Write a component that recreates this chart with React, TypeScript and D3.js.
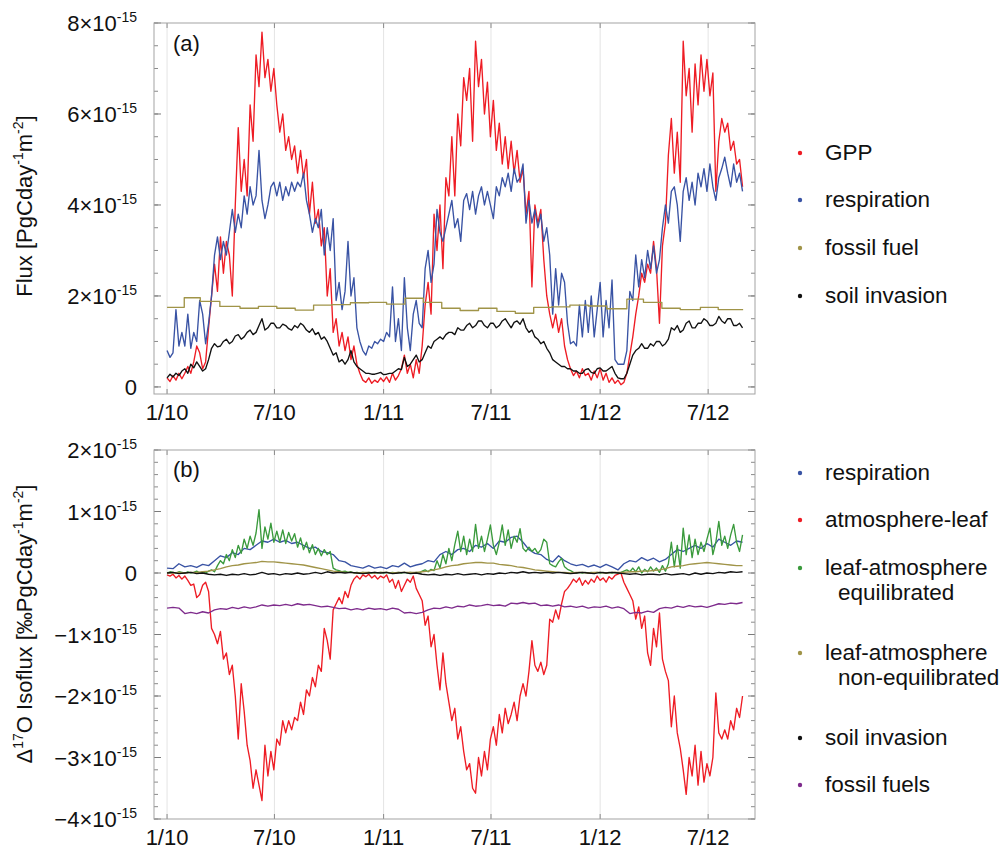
import React from 'react';
import * as d3 from 'd3';

// ---------- time axis ----------
const T0 = Date.UTC(2010, 0, 1);
const DAY = 86400000;
const dayDate = (d: number) => new Date(T0 + d * DAY);

const xTickDates = [Date.UTC(2010, 0, 1), Date.UTC(2010, 6, 1), Date.UTC(2011, 0, 1), Date.UTC(2011, 6, 1), Date.UTC(2012, 0, 1), Date.UTC(2012, 6, 1)];
const xTickLabels = ['1/10', '7/10', '1/11', '7/11', '1/12', '7/12'];

const yTicksA = [0, 2, 4, 6, 8];
const yTicksB = [-4, -3, -2, -1, 0, 1, 2];

// ---------- panel (a): fluxes, units of 1e-15 PgC day-1 m-2 ----------
// sampled every 5 days from 1 Jan 2010
const gpp = [
  0.2, 0.12, 0.25, 0.15, 0.3, 0.18, 0.3, 0.45, 0.3, 0.55,
  0.9, 0.75, 0.4, 0.55, 1.3, 2.0, 2.7, 2.1, 3.3, 2.5,
  3.2, 2.9, 2.0, 4.0, 5.7, 4.3, 5.0, 4.2, 6.2, 5.4,
  7.3, 6.6, 7.8, 6.8, 7.2, 6.5, 7.0, 6.2, 5.6, 6.0,
  5.2, 5.5, 5.0, 5.3, 4.7, 5.2, 4.6, 5.0, 3.8, 4.5,
  3.6, 3.9, 3.1, 3.5, 2.0, 2.6, 1.2, 1.5, 0.9, 1.2,
  0.8, 1.1, 0.6, 0.9, 0.5, 0.3, 0.15, 0.1, 0.2, 0.08,
  0.15, 0.1, 0.2, 0.12, 0.22, 0.1, 0.3, 0.15, 0.25, 0.4,
  0.7, 0.3, 0.5, 0.2, 0.6, 0.3, 0.9, 1.8, 2.3, 1.6,
  3.8, 3.0, 4.0, 2.6, 4.6, 4.2, 5.5, 4.2, 6.0, 5.3,
  6.8, 6.3, 7.0, 5.4, 7.6, 6.6, 7.2, 6.0, 6.7, 5.5,
  6.3, 5.2, 5.8, 4.9, 5.5, 4.8, 5.4, 4.7, 5.2, 4.5,
  4.8, 3.8, 4.3, 2.2, 4.0, 3.6, 3.9, 2.8, 2.0, 1.6,
  1.3, 1.6, 1.2, 1.5, 0.9, 0.6, 0.4, 0.25, 0.35, 0.2,
  0.4, 0.25, 0.3, 0.15, 0.35, 0.2, 0.4, 0.15, 0.3, 0.1,
  0.2, 0.08, 0.15, 0.05, 0.1, 0.3, 0.7, 1.1, 1.6, 2.0,
  2.5, 2.3, 2.7, 2.5, 3.2, 2.6, 1.4, 3.1, 3.6, 5.1,
  5.9, 4.7, 5.6, 4.5, 7.6, 6.4, 7.0, 5.6, 7.1, 6.2,
  7.3, 6.5, 7.2, 6.4, 6.9, 4.3, 5.4, 5.9, 5.6, 5.8,
  5.2, 5.4, 4.9, 5.0, 4.4,
];

const respirationA = [
  0.8, 0.65, 0.75, 1.7, 0.9, 1.2, 0.9, 1.6, 0.85, 1.2,
  1.0, 1.9, 1.6, 0.95, 1.4, 2.0, 2.9, 3.3, 2.8, 3.2,
  2.9, 3.4, 3.9, 3.4, 3.8, 3.5, 4.2, 3.8, 4.4, 4.0,
  4.2, 5.2, 4.1, 3.7, 4.0, 4.4, 4.5, 4.2, 4.5, 4.1,
  4.4, 4.2, 4.5, 4.3, 4.5, 4.4, 4.7, 4.1, 3.8, 3.4,
  3.7, 3.5, 3.9, 2.9, 3.5, 3.0, 3.7, 1.9, 2.3, 1.7,
  2.1, 3.2, 2.0, 2.4, 1.3, 1.0, 0.8, 0.7, 0.9, 0.85,
  1.0, 0.95, 1.05, 1.0, 1.2, 1.1, 2.2, 1.0, 1.5, 0.8,
  2.4, 1.3, 0.8, 1.6, 1.9, 1.4, 1.3, 2.6, 3.0, 2.3,
  2.7, 3.9, 3.4, 3.2, 3.5, 3.8, 4.1, 3.5, 3.7, 3.2,
  4.1, 4.25, 3.9, 4.3, 3.8, 4.2, 4.4, 4.0, 4.3, 4.0,
  3.7, 4.4, 4.2, 4.6, 4.4, 4.7, 4.3, 4.8, 4.5, 4.6,
  4.9, 3.6, 4.1, 3.6, 3.9, 3.5, 3.8, 3.2, 3.5, 2.9,
  1.6, 2.6, 1.8, 2.5, 2.3, 1.4, 0.95, 1.0, 0.9, 1.8,
  1.1, 1.9, 1.2, 2.0, 1.1, 1.7, 2.3, 1.1, 1.9, 1.3,
  2.35, 0.6, 0.5, 0.5, 0.5, 0.8, 2.1, 1.9, 2.9, 2.2,
  2.8, 2.4, 3.0, 2.6, 3.1, 2.5, 2.8, 3.5, 4.0, 3.6,
  4.3, 4.4, 4.0, 3.2, 4.3, 4.6, 4.1, 4.5, 4.0, 4.7,
  4.4, 4.8, 4.3, 4.9, 4.4, 4.1, 4.6, 4.8, 5.05, 4.7,
  4.4, 4.9, 4.5, 4.7, 4.3,
];

const soilInvasionA = [
  0.2, 0.28, 0.22, 0.3, 0.25, 0.35, 0.4, 0.3, 0.5, 0.42,
  0.55, 0.45, 0.35, 0.4, 0.6, 0.85, 0.95, 0.88, 0.9, 1.0,
  1.05, 0.95, 1.0, 1.12, 1.15, 1.05, 1.1, 1.2, 1.25, 1.15,
  1.2, 1.35, 1.5, 1.25, 1.3, 1.4, 1.4, 1.3, 1.3, 1.38,
  1.35, 1.28, 1.25, 1.35, 1.3, 1.4, 1.35, 1.25, 1.2, 1.28,
  1.15, 1.2, 1.05, 1.1, 1.0, 0.85, 0.7, 0.75, 0.55, 0.6,
  0.5, 0.6, 0.8, 0.55, 0.45, 0.4, 0.35, 0.3, 0.3, 0.28,
  0.28, 0.3, 0.32, 0.27, 0.28, 0.3, 0.3, 0.35, 0.4, 0.38,
  0.65, 0.45, 0.5, 0.6, 0.7, 0.55, 0.6, 0.75, 0.9, 0.85,
  1.0, 1.05, 1.1, 1.05, 1.15, 1.2, 1.2, 1.15, 1.3, 1.25,
  1.25, 1.35, 1.4, 1.3, 1.35, 1.45, 1.45, 1.35, 1.3, 1.4,
  1.4, 1.3, 1.35, 1.45, 1.5, 1.4, 1.3, 1.42, 1.45, 1.38,
  1.5, 1.3, 1.2, 1.25, 1.1, 1.05, 0.95, 1.0, 0.85, 0.75,
  0.6, 0.55, 0.5, 0.45, 0.45, 0.4, 0.4, 0.35, 0.35, 0.3,
  0.3, 0.38, 0.4, 0.32, 0.3, 0.4, 0.42, 0.35, 0.35, 0.4,
  0.45, 0.3, 0.2, 0.18, 0.18, 0.3, 0.5, 0.7, 0.8, 0.85,
  0.95, 0.85, 0.85, 0.95, 0.9, 1.0, 1.0, 0.9, 0.95, 1.05,
  1.3, 1.25, 1.35, 1.2, 1.25, 1.4, 1.45, 1.3, 1.3, 1.4,
  1.4, 1.5, 1.45, 1.35, 1.35, 1.4, 1.55, 1.45, 1.4, 1.5,
  1.5, 1.35, 1.35, 1.4, 1.3,
];

// fossil fuel: piecewise-constant levels, starting on the given day offsets
const fossilStepDays = [0, 29, 56, 89, 123, 154, 185, 216, 247, 278, 309, 340, 370, 401, 432, 463, 494, 525, 556, 587, 618, 648, 679, 710, 741, 775, 803, 834, 865, 899, 929];
const fossilLevels = [1.75, 1.96, 1.88, 1.77, 1.73, 1.77, 1.73, 1.69, 1.80, 1.81, 1.85, 1.86, 1.82, 1.95, 1.86, 1.73, 1.68, 1.73, 1.66, 1.62, 1.75, 1.76, 1.80, 1.78, 1.72, 1.93, 1.86, 1.73, 1.70, 1.75, 1.70];
const lastDay = 971;

// ---------- panel (b): isofluxes, units of 1e-15 permil PgC day-1 m-2 ----------
// every 5 days
const atmosphereLeaf = [
  -0.03, -0.05, -0.02, -0.08, -0.04, -0.1, -0.05, -0.12, -0.2, -0.18,
  -0.4, -0.35, -0.2, -0.15, -0.3, -0.9, -1.0, -1.15, -0.95, -1.4,
  -1.3, -1.65, -1.5, -2.0, -2.7, -1.8, -2.25, -2.8, -3.05, -3.5,
  -3.2, -3.45, -3.7, -2.8, -3.3, -2.9, -3.2, -2.7, -2.8, -2.4,
  -2.6, -2.4, -2.55, -2.35, -2.4, -2.1, -2.3, -1.9, -2.0, -1.7,
  -1.85, -1.5, -1.6, -0.9, -1.1, -1.4, -0.6, -0.5, -0.4, -0.5,
  -0.3, -0.4, -0.2, -0.1, -0.05, -0.1, -0.03, -0.06, -0.02, -0.08,
  -0.04, -0.1, -0.05, -0.08, -0.03, -0.15, -0.1, -0.25, -0.12, -0.3,
  -0.2, -0.1, -0.15, -0.05, -0.25, -0.35, -0.45, -0.85, -0.7, -1.2,
  -1.0, -1.5, -1.9, -1.3, -1.8, -2.1, -2.4, -2.2, -2.7, -2.5,
  -2.9, -3.2, -3.1, -3.5, -3.58, -3.0, -3.3, -2.9, -3.2, -2.7,
  -2.5, -2.8, -2.3, -2.6, -2.2, -2.45, -2.3, -2.1, -2.4, -2.0,
  -1.8, -2.0, -1.6, -1.1, -1.5, -1.6, -1.45, -1.65, -1.5, -0.75,
  -0.8, -0.6, -0.75, -0.5, -0.3, -0.25, -0.18, -0.1, -0.15, -0.08,
  -0.2, -0.12, -0.18, -0.1, -0.15, -0.05, -0.12, -0.08, -0.15, -0.06,
  -0.1, -0.04, -0.02, 0.0, -0.15, -0.25, -0.35, -0.45, -0.75, -0.55,
  -0.9, -0.7, -1.3, -1.5, -0.9, -1.2, -0.65, -1.4, -1.6, -1.75,
  -2.5, -2.0, -2.6, -2.85, -3.2, -3.6, -3.0, -3.3, -2.8, -3.45,
  -2.9, -3.4, -3.1, -3.3, -3.0, -1.95, -2.6, -2.7, -2.55, -2.7,
  -2.4, -2.55, -2.2, -2.35, -2.0,
];

const leafAtmEquilibrated = [
  0.0, 0.02, 0.01, 0.0, 0.02, 0.01, 0.0, 0.02, 0.0, 0.01,
  0.03, 0.0, 0.02, 0.0, 0.03, 0.05, 0.02, 0.12, 0.2, 0.15,
  0.3, 0.2, 0.38, 0.25, 0.45, 0.32, 0.55, 0.4, 0.6, 0.45,
  0.65, 1.03, 0.4, 0.75, 0.55, 0.81, 0.5, 0.68, 0.5, 0.7,
  0.48, 0.66, 0.52, 0.64, 0.42, 0.57, 0.38, 0.5, 0.33, 0.46,
  0.3, 0.4, 0.28, 0.38, 0.3, 0.35, 0.08, 0.05, 0.04, 0.02,
  0.03, 0.01, 0.02, 0.0, 0.01, 0.0, 0.01, 0.0, 0.01, 0.0,
  0.01, 0.0, 0.01, 0.0, 0.01, 0.0, 0.01, 0.0, 0.01, 0.0,
  0.01, 0.0, 0.01, 0.0, 0.01, 0.0, 0.03, 0.05, 0.02, 0.06,
  0.04, 0.2, 0.08, 0.3, 0.15, 0.4, 0.2, 0.46, 0.68, 0.35,
  0.6, 0.3, 0.55, 0.35, 0.79, 0.4, 0.6, 0.35, 0.55, 0.78,
  0.45, 0.3, 0.5, 0.78, 0.45, 0.7, 0.4, 0.6, 0.5, 0.72,
  0.4, 0.35, 0.42, 0.35, 0.4, 0.32, 0.38, 0.55, 0.5, 0.15,
  0.12, 0.1, 0.18, 0.24, 0.1, 0.06, 0.04, 0.01, 0.0, 0.01,
  0.0, 0.01, 0.0, 0.01, 0.0, 0.01, 0.0, 0.01, 0.0, 0.01,
  0.0, 0.01, 0.0, 0.01, 0.03, 0.05, 0.02, 0.08, 0.02, 0.1,
  0.0, 0.06, 0.02, 0.1, 0.03, 0.08, 0.01, 0.12, 0.03, 0.15,
  0.5, 0.1, 0.45, 0.08, 0.73, 0.3, 0.62, 0.25, 0.55, 0.3,
  0.5, 0.35, 0.55, 0.73, 0.3, 0.5, 0.84, 0.45, 0.6, 0.4,
  0.62, 0.79, 0.5, 0.35, 0.62,
];

// every 10 days
const respirationB = [
  0.08, 0.07, 0.15, 0.1, 0.12, 0.09, 0.14, 0.12, 0.2, 0.28,
  0.25, 0.33, 0.3, 0.4, 0.38, 0.45, 0.52, 0.5, 0.55, 0.5,
  0.53, 0.48, 0.5, 0.45, 0.4, 0.42, 0.35, 0.33, 0.3, 0.2,
  0.18, 0.12, 0.1, 0.08, 0.12, 0.08, 0.1, 0.07, 0.12, 0.1,
  0.16, 0.1, 0.13, 0.15, 0.2, 0.18, 0.3, 0.35, 0.3, 0.38,
  0.4, 0.35, 0.45, 0.42, 0.48, 0.4, 0.52, 0.5, 0.58, 0.6,
  0.5, 0.38, 0.32, 0.3, 0.22, 0.18, 0.28, 0.2, 0.15, 0.12,
  0.14, 0.1, 0.13, 0.09, 0.14, 0.1, 0.05, 0.15, 0.2, 0.18,
  0.25, 0.2, 0.24, 0.18, 0.22, 0.3, 0.38, 0.35, 0.4, 0.45,
  0.4, 0.48, 0.42, 0.55, 0.5, 0.45, 0.52, 0.5,
];

const leafAtmNonEquilibrated = [
  0.0, 0.0, 0.01, 0.0, 0.01, 0.01, 0.02, 0.03, 0.05, 0.07,
  0.1, 0.12, 0.13, 0.15, 0.16, 0.17, 0.19, 0.18, 0.18, 0.17,
  0.16, 0.15, 0.14, 0.13, 0.11, 0.09, 0.07, 0.05, 0.03, 0.02,
  0.01, 0.01, 0.0, 0.01, 0.01, 0.0, 0.01, 0.01, 0.0, 0.01,
  0.01, 0.01, 0.01, 0.02, 0.03, 0.05, 0.07, 0.1, 0.12, 0.13,
  0.15, 0.16, 0.17, 0.17, 0.16, 0.16, 0.14, 0.13, 0.12, 0.1,
  0.09, 0.07, 0.05, 0.04, 0.03, 0.02, 0.01, 0.01, 0.0, 0.01,
  0.01, 0.0, 0.01, 0.01, 0.0, 0.01, 0.01, 0.01, 0.02, 0.02,
  0.03, 0.03, 0.04, 0.05, 0.07, 0.1, 0.11, 0.12, 0.14, 0.15,
  0.16, 0.17, 0.16, 0.15, 0.14, 0.13, 0.12, 0.12,
];

const soilInvasionB = [
  0.0, 0.01, -0.01, 0.0, 0.01, -0.01, 0.0, -0.02, -0.03, -0.02,
  -0.04, -0.02, -0.03, -0.01, -0.03, -0.02, 0.01, -0.02, -0.01, -0.03,
  -0.01, -0.02, 0.0, -0.02, -0.01, 0.01, -0.01, 0.02, 0.0, 0.01,
  0.0, 0.01, 0.0, -0.01, 0.0, 0.01, 0.0, 0.01, -0.01, 0.0,
  0.01, -0.01, 0.0, -0.02, -0.03, -0.02, -0.04, -0.02, -0.03, -0.01,
  -0.03, -0.02, -0.01, -0.03, -0.01, -0.02, 0.0, -0.01, 0.01, 0.0,
  0.02, 0.0, 0.01, 0.0, 0.01, 0.0, 0.01, 0.0, -0.01, 0.0,
  0.01, 0.0, -0.01, 0.01, 0.0, 0.01, 0.0, -0.01, -0.02, -0.01,
  -0.03, -0.02, -0.02, -0.03, -0.01, -0.03, -0.02, -0.01, -0.03, 0.0,
  -0.02, 0.0, -0.01, 0.01, 0.0, 0.02, 0.01, 0.02,
];

const fossilFuelsB = [
  -0.57, -0.56, -0.57, -0.66, -0.64, -0.66, -0.63, -0.65, -0.6, -0.58,
  -0.59, -0.56, -0.58, -0.55, -0.57, -0.55, -0.52, -0.54, -0.52, -0.53,
  -0.51, -0.53, -0.5, -0.52, -0.51, -0.53, -0.55, -0.54, -0.56, -0.58,
  -0.57, -0.6, -0.58, -0.6, -0.57, -0.59, -0.58, -0.6, -0.57, -0.59,
  -0.65, -0.64, -0.66, -0.64, -0.6, -0.57, -0.58, -0.55, -0.57, -0.54,
  -0.55, -0.52, -0.54, -0.53, -0.51, -0.53, -0.52, -0.54, -0.49, -0.5,
  -0.48, -0.5, -0.49, -0.53, -0.52, -0.54, -0.52, -0.55, -0.54, -0.56,
  -0.54, -0.57, -0.55, -0.56, -0.54, -0.57, -0.55, -0.58, -0.66, -0.64,
  -0.65, -0.62, -0.64, -0.58, -0.56, -0.57, -0.54, -0.56, -0.53, -0.55,
  -0.54, -0.56, -0.53, -0.5, -0.51, -0.49, -0.5, -0.48,
];

// ---------- styling ----------
const COLORS = {
  red: '#ee1c24',
  blue: '#3953a4',
  olive: '#a09448',
  black: '#111111',
  green: '#3a9a3c',
  purple: '#7e2b8c',
};
const FONT = "'Liberation Sans', Arial, Helvetica, sans-serif";

const legendA = [
  { label: ['GPP'], color: COLORS.red },
  { label: ['respiration'], color: COLORS.blue },
  { label: ['fossil fuel'], color: COLORS.olive },
  { label: ['soil invasion'], color: COLORS.black },
];
const legendB = [
  { label: ['respiration'], color: COLORS.blue },
  { label: ['atmosphere-leaf'], color: COLORS.red },
  { label: ['leaf-atmosphere', 'equilibrated'], color: COLORS.green },
  { label: ['leaf-atmosphere', 'non-equilibrated'], color: COLORS.olive },
  { label: ['soil invasion'], color: COLORS.black },
  { label: ['fossil fuels'], color: COLORS.purple },
];

type Pt = [Date, number];
const sampled = (vals: number[], step: number): Pt[] => vals.map((v, i) => [dayDate(i * step), v]);

const LEFT = 154;
const RIGHT = 755;

const x = d3
  .scaleUtc()
  .domain([new Date(Date.UTC(2009, 11, 10)), new Date(Date.UTC(2012, 8, 18))])
  .range([LEFT, RIGHT]);

function SciLabel({ v, px, py }: { v: number; px: number; py: number }) {
  if (v === 0) {
    return (
      <text x={px} y={py} textAnchor="end" fontSize={22} fontFamily={FONT} fill="#111">
        0
      </text>
    );
  }
  const s = (v < 0 ? '\u2212' : '') + Math.abs(v) + '\u00d710';
  return (
    <text x={px} y={py} textAnchor="end" fontSize={22} fontFamily={FONT} fill="#111">
      {s}
      <tspan dy={-9} fontSize={14}>-15</tspan>
    </text>
  );
}

function Panel({
  top,
  bottom,
  y,
  yTicks,
  minorTicks,
  series,
  tag,
}: {
  top: number;
  bottom: number;
  y: d3.ScaleLinear<number, number>;
  yTicks: number[];
  minorTicks: number[];
  series: { pts: Pt[]; color: string; step?: boolean }[];
  tag: string;
}) {
  const clipId = 'clip-' + tag;
  return (
    <g>
      <defs>
        <clipPath id={clipId}>
          <rect x={LEFT} y={top} width={RIGHT - LEFT} height={bottom - top} />
        </clipPath>
      </defs>
      {xTickDates.map((t, i) => (
        <line key={'g' + i} x1={x(new Date(t))} x2={x(new Date(t))} y1={top} y2={bottom} stroke="#e4e4e4" strokeWidth={1} />
      ))}
      {xTickDates.map((t, i) => (
        <g key={'xt' + i} stroke="#8a8a8a" strokeWidth={1}>
          <line x1={x(new Date(t))} x2={x(new Date(t))} y1={bottom} y2={bottom - 5} />
          <line x1={x(new Date(t))} x2={x(new Date(t))} y1={top} y2={top + 5} />
        </g>
      ))}
      {minorTicks.map((v, i) => (
        <g key={'ym' + i} stroke="#8a8a8a" strokeWidth={1}>
          <line x1={LEFT} x2={LEFT + 4} y1={y(v)} y2={y(v)} />
          <line x1={RIGHT} x2={RIGHT - 4} y1={y(v)} y2={y(v)} />
        </g>
      ))}
      {yTicks.map((v, i) => (
        <g key={'yM' + i} stroke="#7a7a7a" strokeWidth={1}>
          <line x1={LEFT} x2={LEFT + 7} y1={y(v)} y2={y(v)} />
          <line x1={RIGHT} x2={RIGHT - 7} y1={y(v)} y2={y(v)} />
        </g>
      ))}
      <g clipPath={`url(#${clipId})`} fill="none">
        {series.map((s, i) => {
          const gen = d3
            .line<Pt>()
            .x((p) => x(p[0]))
            .y((p) => y(p[1]))
            .curve(s.step ? d3.curveStepAfter : d3.curveLinear);
          return <path key={i} d={gen(s.pts) || ''} stroke={s.color} strokeWidth={1.35} strokeLinejoin="round" />;
        })}
      </g>
      <rect x={LEFT} y={top} width={RIGHT - LEFT} height={bottom - top} fill="none" stroke="#a3a3a3" strokeWidth={1} />
      {yTicks.map((v, i) => (
        <SciLabel key={'yl' + i} v={v} px={137} py={y(v) + 8} />
      ))}
      {xTickDates.map((t, i) => (
        <text key={'xl' + i} x={x(new Date(t))} y={bottom + 26} textAnchor="middle" fontSize={22} fontFamily={FONT} fill="#111">
          {xTickLabels[i]}
        </text>
      ))}
    </g>
  );
}

function Legend({ items, ys }: { items: { label: string[]; color: string }[]; ys: number[] }) {
  return (
    <g fontFamily={FONT} fontSize={22.5} fill="#111">
      {items.map((it, i) => (
        <g key={i}>
          <circle cx={800} cy={ys[i]} r={2.2} fill={it.color} />
          {it.label.map((l, j) => (
            <text key={j} x={j === 0 ? 825 : 838} y={ys[i] + 7 + j * 25}>
              {l}
            </text>
          ))}
        </g>
      ))}
    </g>
  );
}

export default function App() {
  const yA = d3.scaleLinear().domain([-0.155, 8]).range([394, 23]);
  const yB = d3.scaleLinear().domain([-4, 2]).range([819, 450]);

  const minorA = d3.range(0, 17).map((i) => i * 0.5);
  const minorB = d3.range(0, 31).map((i) => -4 + i * 0.2);

  const fossilPts: Pt[] = fossilStepDays.map((d, i) => [dayDate(d), fossilLevels[i]] as Pt);
  fossilPts.push([dayDate(lastDay), fossilLevels[fossilLevels.length - 1]]);

  const seriesA = [
    { pts: sampled(gpp, 5), color: COLORS.red },
    { pts: sampled(respirationA, 5), color: COLORS.blue },
    { pts: fossilPts, color: COLORS.olive, step: true },
    { pts: sampled(soilInvasionA, 5), color: COLORS.black },
  ];
  const seriesB = [
    { pts: sampled(respirationB, 10), color: COLORS.blue },
    { pts: sampled(atmosphereLeaf, 5), color: COLORS.red },
    { pts: sampled(leafAtmEquilibrated, 5), color: COLORS.green },
    { pts: sampled(leafAtmNonEquilibrated, 10), color: COLORS.olive },
    { pts: sampled(soilInvasionB, 10), color: COLORS.black },
    { pts: sampled(fossilFuelsB, 10), color: COLORS.purple },
  ];

  return (
    <svg width={1003} height={849} style={{ position: 'absolute', left: 0, top: 0, background: '#fff' }}>
      <Panel top={23} bottom={394} y={yA} yTicks={yTicksA} minorTicks={minorA} series={seriesA} tag="a" />
      <Panel top={450} bottom={819} y={yB} yTicks={yTicksB} minorTicks={minorB} series={seriesB} tag="b" />

      <text x={173} y={51} fontSize={22} fontFamily={FONT} fill="#111">(a)</text>
      <text x={173} y={477} fontSize={22} fontFamily={FONT} fill="#111">(b)</text>

      <text transform="translate(32,206) rotate(-90)" textAnchor="middle" fontSize={22} fontFamily={FONT} fill="#111">
        Flux [PgCday<tspan dy={-9} fontSize={14}>-1</tspan>
        <tspan dy={9}>m</tspan>
        <tspan dy={-9} fontSize={14}>-2</tspan>
        <tspan dy={9}>]</tspan>
      </text>
      <text transform="translate(32,624) rotate(-90)" textAnchor="middle" fontSize={22} fontFamily={FONT} fill="#111">
        Δ<tspan dy={-9} fontSize={14}>17</tspan>
        <tspan dy={9}>O Isoflux [‰PgCday</tspan>
        <tspan dy={-9} fontSize={14}>-1</tspan>
        <tspan dy={9}>m</tspan>
        <tspan dy={-9} fontSize={14}>-2</tspan>
        <tspan dy={9}>]</tspan>
      </text>

      <Legend items={legendA} ys={[153, 200, 248, 296]} />
      <Legend items={legendB} ys={[473, 520, 568, 653, 738, 785]} />
    </svg>
  );
}
